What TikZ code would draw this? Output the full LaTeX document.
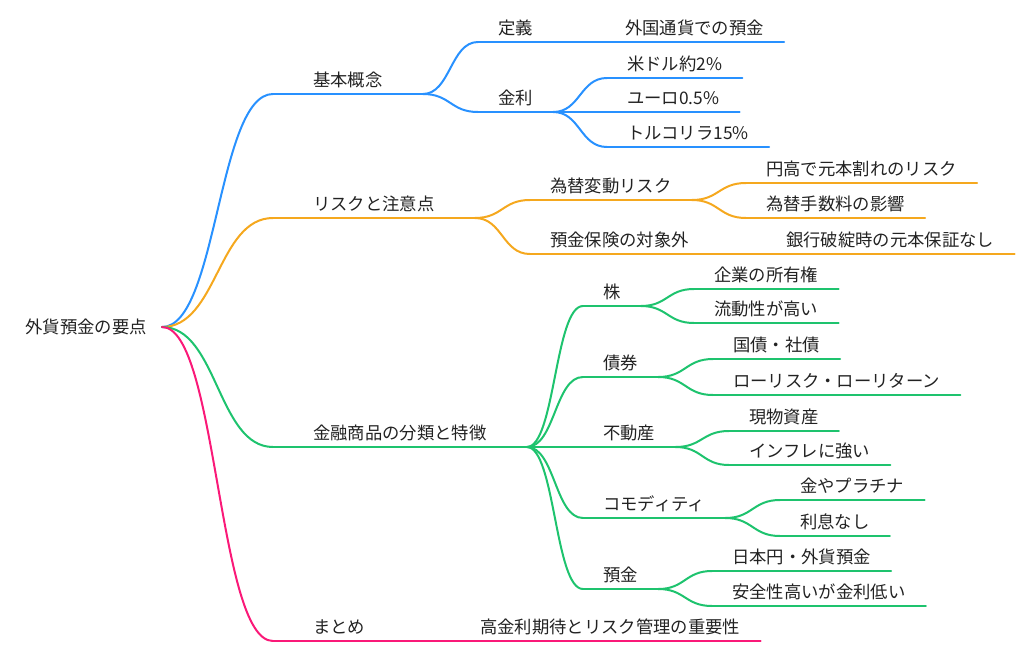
\documentclass[tikz,border=0pt]{standalone}
\usepackage{fontspec}
\setmainfont{Noto Sans CJK JP}
\usetikzlibrary{calc}
\definecolor{mmblue}{RGB}{40,145,255}
\definecolor{mmorange}{RGB}{245,168,30}
\definecolor{mmgreen}{RGB}{30,195,110}
\definecolor{mmpink}{RGB}{250,25,120}
\definecolor{ink}{RGB}{34,34,34}
\tikzset{
  link/.style={line width=1.5pt,line cap=round},
  twig/.style={to path={let \p1=(\tikztostart),\p2=(\tikztotarget) in
      .. controls ({(\x1+\x2)/2},\y1) and ({(\x1+\x2)/2},\y2) .. (\tikztotarget)}}
}
\begin{document}
\begin{tikzpicture}[x=0.75pt,y=-0.75pt,
    every node/.style={font=\fontsize{13}{15}\selectfont,text=ink,
      text height=11.4pt,text depth=1.6pt,inner ysep=3.7pt},
    rootbox/.style={anchor=east,inner xsep=11.25pt},
    topic/.style={anchor=south west,inner xsep=30pt},
    leaf/.style={anchor=south west,inner xsep=15pt}]
  \useasboundingbox (0,0) rectangle (1024,653);

  % root and first level
  \node[rootbox] (root) at (162,327) {外貨預金の要点};
  \node[topic] (kihon)  at (273,94)  {基本概念};
  \node[topic] (risk)   at (273,218) {リスクと注意点};
  \node[topic] (shohin) at (273,447) {金融商品の分類と特徴};
  \node[topic] (matome) at (273,641) {まとめ};

  % second level
  \node[leaf] (teigi)     at (478,42)  {定義};
  \node[leaf] (kinri)     at (478,112) {金利};
  \node[leaf] (kawase)    at (530,200) {為替変動リスク};
  \node[leaf] (hoken)     at (530,254) {預金保険の対象外};
  \node[leaf] (kabu)      at (583,306) {株};
  \node[leaf] (saiken)    at (583,377) {債券};
  \node[leaf] (fudosan)   at (583,447) {不動産};
  \node[leaf] (commodity) at (583,518) {コモディティ};
  \node[leaf] (yokin)     at (583,589) {預金};
  \node[leaf] (kokinri)   at (460,641) {高金利期待とリスク管理の重要性};

  % third level
  \node[leaf] (gaikoku)   at (605,42)  {外国通貨での預金};
  \node[leaf] (usd)       at (607,78)  {米ドル約2\%};
  \node[leaf] (euro)      at (607,112) {ユーロ0.5\%};
  \node[leaf] (lira)      at (607,147) {トルコリラ15\%};
  \node[leaf] (endaka)    at (746,183) {円高で元本割れのリスク};
  \node[leaf] (tesuryo)   at (746,218) {為替手数料の影響};
  \node[leaf] (hatan)     at (766,254) {銀行破綻時の元本保証なし};
  \node[leaf] (kigyo)     at (694,289) {企業の所有権};
  \node[leaf] (ryudo)     at (694,323) {流動性が高い};
  \node[leaf] (kokusai)   at (713,359) {国債・社債};
  \node[leaf] (lowrisk)   at (713,395) {ローリスク・ローリターン};
  \node[leaf] (genbutsu)  at (729,431) {現物資産};
  \node[leaf] (inflation) at (729,465) {インフレに強い};
  \node[leaf] (kin)       at (780,500) {金やプラチナ};
  \node[leaf] (rison)     at (780,536) {利息なし};
  \node[leaf] (yen)       at (712,571) {日本円・外貨預金};
  \node[leaf] (anzen)     at (712,606) {安全性高いが金利低い};

  % blue branch
  \begin{scope}[every edge/.style={draw=mmblue,link}]
    \path (root.east) edge[twig] (kihon.south west)
          (kihon.south west) edge (kihon.south east)
          (kihon.south east) edge[twig] (teigi.south west)
          (teigi.south west) edge (teigi.south east)
          (teigi.south east) edge[twig] (gaikoku.south west)
          (gaikoku.south west) edge (gaikoku.south east)
          (kihon.south east) edge[twig] (kinri.south west)
          (kinri.south west) edge (kinri.south east)
          (kinri.south east) edge[twig] (usd.south west)
          (usd.south west) edge (usd.south east)
          (kinri.south east) edge[twig] (euro.south west)
          (euro.south west) edge (euro.south east)
          (kinri.south east) edge[twig] (lira.south west)
          (lira.south west) edge (lira.south east);
  \end{scope}

  % orange branch
  \begin{scope}[every edge/.style={draw=mmorange,link}]
    \path (root.east) edge[twig] (risk.south west)
          (risk.south west) edge (risk.south east)
          (risk.south east) edge[twig] (kawase.south west)
          (kawase.south west) edge (kawase.south east)
          (kawase.south east) edge[twig] (endaka.south west)
          (endaka.south west) edge (endaka.south east)
          (kawase.south east) edge[twig] (tesuryo.south west)
          (tesuryo.south west) edge (tesuryo.south east)
          (risk.south east) edge[twig] (hoken.south west)
          (hoken.south west) edge (hoken.south east)
          (hoken.south east) edge[twig] (hatan.south west)
          (hatan.south west) edge (hatan.south east);
  \end{scope}

  % green branch
  \begin{scope}[every edge/.style={draw=mmgreen,link}]
    \path (root.east) edge[twig] (shohin.south west)
          (shohin.south west) edge (shohin.south east)
          (shohin.south east) edge[twig] (kabu.south west)
          (kabu.south west) edge (kabu.south east)
          (kabu.south east) edge[twig] (kigyo.south west)
          (kigyo.south west) edge (kigyo.south east)
          (kabu.south east) edge[twig] (ryudo.south west)
          (ryudo.south west) edge (ryudo.south east)
          (shohin.south east) edge[twig] (saiken.south west)
          (saiken.south west) edge (saiken.south east)
          (saiken.south east) edge[twig] (kokusai.south west)
          (kokusai.south west) edge (kokusai.south east)
          (saiken.south east) edge[twig] (lowrisk.south west)
          (lowrisk.south west) edge (lowrisk.south east)
          (shohin.south east) edge[twig] (fudosan.south west)
          (fudosan.south west) edge (fudosan.south east)
          (fudosan.south east) edge[twig] (genbutsu.south west)
          (genbutsu.south west) edge (genbutsu.south east)
          (fudosan.south east) edge[twig] (inflation.south west)
          (inflation.south west) edge (inflation.south east)
          (shohin.south east) edge[twig] (commodity.south west)
          (commodity.south west) edge (commodity.south east)
          (commodity.south east) edge[twig] (kin.south west)
          (kin.south west) edge (kin.south east)
          (commodity.south east) edge[twig] (rison.south west)
          (rison.south west) edge (rison.south east)
          (shohin.south east) edge[twig] (yokin.south west)
          (yokin.south west) edge (yokin.south east)
          (yokin.south east) edge[twig] (yen.south west)
          (yen.south west) edge (yen.south east)
          (yokin.south east) edge[twig] (anzen.south west)
          (anzen.south west) edge (anzen.south east);
  \end{scope}

  % pink branch
  \begin{scope}[every edge/.style={draw=mmpink,link}]
    \path (root.east) edge[twig] (matome.south west)
          (matome.south west) edge (matome.south east)
          (matome.south east) edge[twig] (kokinri.south west)
          (kokinri.south west) edge (kokinri.south east);
  \end{scope}
\end{tikzpicture}
\end{document}
